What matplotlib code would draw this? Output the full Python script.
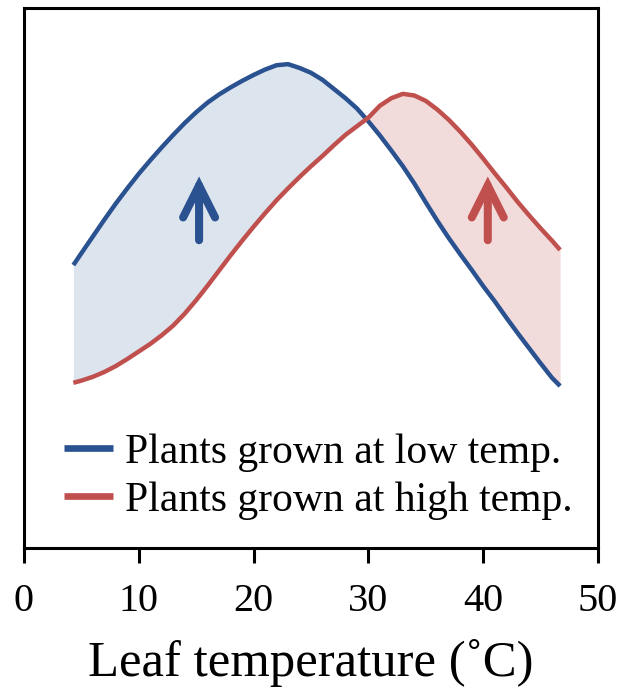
import numpy as np
import matplotlib
matplotlib.use("Agg")
import matplotlib.pyplot as plt
from matplotlib.lines import Line2D

# leaf temperature (deg C) and relative photosynthesis (arbitrary units, 0-100)
leaf_temp = [4.3, 5, 6, 7, 8, 9, 10, 11, 12, 13, 14, 15, 16, 17, 18, 19, 20,
             21, 22, 23, 24, 25, 26, 27, 28, 29, 30, 31, 32, 33, 34, 35, 36,
             37, 38, 39, 40, 41, 42, 43, 44, 45, 46, 46.7]
low_temp_plants = [52.4, 54.6, 57.7, 60.8, 63.8, 66.6, 69.3, 71.8, 74.2, 76.5,
                   78.7, 80.7, 82.5, 84.0, 85.3, 86.5, 87.6, 88.6, 89.4, 89.6,
                   88.9, 88.0, 86.7, 85.0, 83.3, 81.4, 79.0, 76.4, 73.6, 70.7,
                   67.5, 64.0, 60.6, 57.4, 54.4, 51.5, 48.5, 45.7, 42.7, 39.8,
                   37.0, 34.2, 31.5, 30.0]
high_temp_plants = [30.6, 31.0, 31.7, 32.6, 33.7, 35.0, 36.4, 37.8, 39.4, 41.2,
                    43.4, 45.9, 48.6, 51.4, 54.2, 56.9, 59.5, 62.0, 64.4, 66.6,
                    68.7, 70.7, 72.6, 74.6, 76.5, 78.1, 79.7, 81.9, 83.3, 84.1,
                    83.8, 82.8, 81.2, 79.3, 77.1, 74.7, 72.1, 69.4, 66.8, 64.1,
                    61.6, 59.2, 56.9, 55.2]
series_labels = ["Plants grown at low temp.", "Plants grown at high temp."]
x_ticks = [0, 10, 20, 30, 40, 50]

# arrow positions: (x, y tail, y tip)
arrow_low = (15.25, 57.0, 68.8)
arrow_high = (40.4, 57.0, 68.8)

BLUE = "#2A5190"
RED = "#C0504D"
BLUE_FILL = "#DCE4EE"
RED_FILL = "#F2DCDB"
SERIF = ["Liberation Serif", "DejaVu Serif"]

x = np.array(leaf_temp)
lo = np.array(low_temp_plants)
hi = np.array(high_temp_plants)

fig = plt.figure(figsize=(6.25, 6.89), dpi=100)
ax = fig.add_axes([0.0384, 0.2046, 0.9184, 0.7838])

ax.fill_between(x, lo, hi, where=lo >= hi, interpolate=True,
                color=BLUE_FILL, lw=0, zorder=1)
ax.fill_between(x, lo, hi, where=hi >= lo, interpolate=True,
                color=RED_FILL, lw=0, zorder=1)
ax.plot(x, lo, color=BLUE, lw=3.2, solid_capstyle="butt",
        solid_joinstyle="round", zorder=3)
ax.plot(x, hi, color=RED, lw=3.2, solid_capstyle="butt",
        solid_joinstyle="round", zorder=3)

for (ax_x, y0, y1), c in [(arrow_low, BLUE), (arrow_high, RED)]:
    ax.annotate("", xy=(ax_x, y1), xytext=(ax_x, y0),
                arrowprops=dict(arrowstyle="->,head_length=2.3,head_width=1.15",
                                color=c, lw=5.8, mutation_scale=10,
                                shrinkA=0, shrinkB=0, capstyle="round",
                                joinstyle="miter"),
                zorder=4)

handles = [Line2D([], [], color=BLUE, lw=4.8, solid_capstyle="butt"),
           Line2D([], [], color=RED, lw=4.8, solid_capstyle="butt")]
leg = ax.legend(handles, series_labels, loc="lower left",
                bbox_to_anchor=(0.02, 0.0), frameon=False,
                prop={"family": SERIF, "size": 30},
                handlelength=1.17, handletextpad=0.3, labelspacing=0.22,
                borderaxespad=0.28)

ax.set_xlim(0, 50)
ax.set_ylim(0, 100)
ax.set_xticks(x_ticks)
ax.set_xticklabels([str(t) for t in x_ticks], fontfamily=SERIF, fontsize=29)
ax.set_yticks([])
ax.tick_params(axis="x", direction="out", length=11, width=2.2, pad=14)
for s in ax.spines.values():
    s.set_linewidth(2.2)
ax.set_xlabel("Leaf temperature (\u02daC)", fontfamily=SERIF, fontsize=36.5,
              labelpad=14)

fig.savefig("out.png", dpi=100)
